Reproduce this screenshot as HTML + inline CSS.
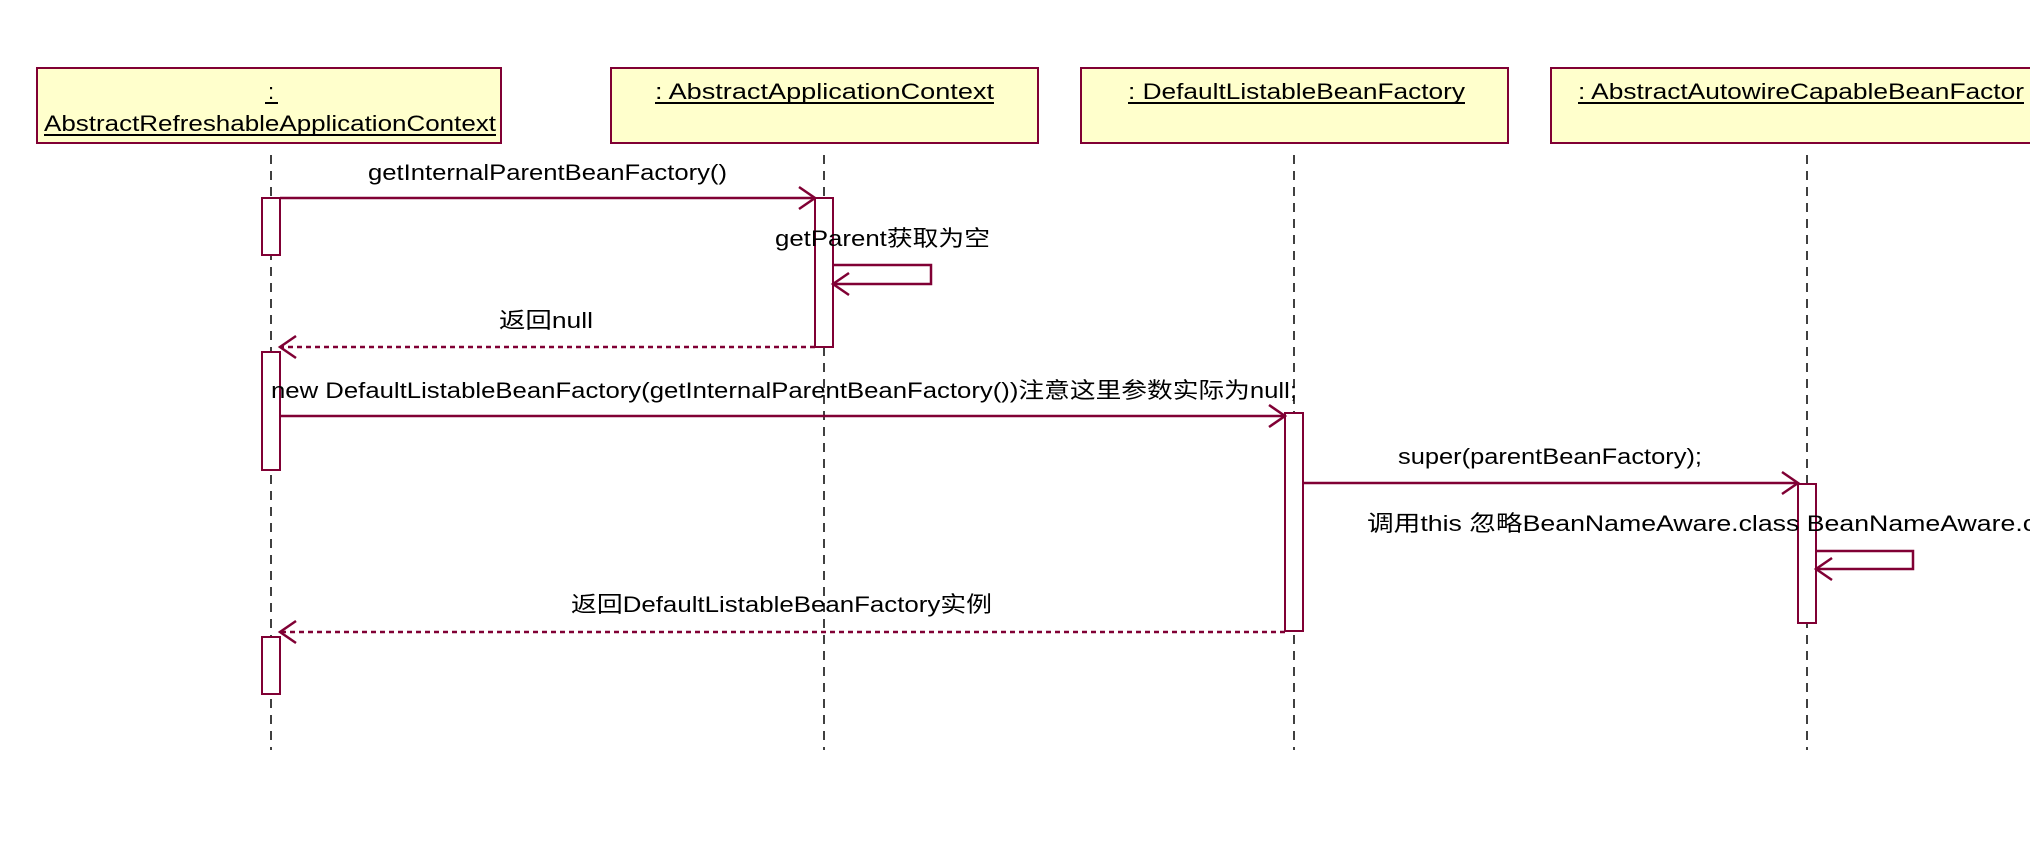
<!DOCTYPE html>
<html><head><meta charset="utf-8"><style>html,body{margin:0;padding:0;background:#fff}svg{display:block}</style></head>
<body>
<svg width="2030" height="842" viewBox="0 0 2030 842" xmlns="http://www.w3.org/2000/svg" font-family="Liberation Sans, Noto Sans CJK SC, sans-serif" font-size="22">
<g fill="#ffffcc" stroke="#800034" stroke-width="2">
<rect x="37" y="68" width="464" height="75"/>
<rect x="611" y="68" width="427" height="75"/>
<rect x="1081" y="68" width="427" height="75"/>
<rect x="1551" y="68" width="490" height="75"/>
</g>
<g fill="#000">
<text x="271" y="99" text-anchor="middle">:</text>
<line x1="265" y1="103" x2="278" y2="103" stroke="#000" stroke-width="2"/>
<text x="44" y="131" textLength="452" lengthAdjust="spacingAndGlyphs">AbstractRefreshableApplicationContext</text>
<line x1="44" y1="135" x2="496" y2="135" stroke="#000" stroke-width="2"/>
<text x="655" y="99" textLength="339" lengthAdjust="spacingAndGlyphs">: AbstractApplicationContext</text>
<line x1="655" y1="103" x2="994" y2="103" stroke="#000" stroke-width="2"/>
<text x="1128" y="99" textLength="337" lengthAdjust="spacingAndGlyphs">: DefaultListableBeanFactory</text>
<line x1="1128" y1="103" x2="1465" y2="103" stroke="#000" stroke-width="2"/>
<text x="1578" y="99" textLength="446" lengthAdjust="spacingAndGlyphs">: AbstractAutowireCapableBeanFactor</text>
<line x1="1578" y1="103" x2="2024" y2="103" stroke="#000" stroke-width="2"/>
</g>
<g stroke="#000" stroke-width="1.5" stroke-dasharray="9,7">
<line x1="271" y1="155" x2="271" y2="750"/>
<line x1="824" y1="155" x2="824" y2="750"/>
<line x1="1294" y1="155" x2="1294" y2="750"/>
<line x1="1807" y1="155" x2="1807" y2="750"/>
</g>
<g fill="#fff" stroke="#800034" stroke-width="2">
<rect x="262" y="198" width="18" height="57"/>
<rect x="815" y="198" width="18" height="149"/>
<rect x="262" y="352" width="18" height="118"/>
<rect x="1285" y="413" width="18" height="218"/>
<rect x="1798" y="484" width="18" height="139"/>
<rect x="262" y="637" width="18" height="57"/>
</g>
<g stroke="#800034" stroke-width="2.5" fill="none">
<line x1="280" y1="198" x2="815" y2="198"/>
<polyline points="799,187 815,198 799,209"/>
<polyline points="833,265 931,265 931,284 833,284"/>
<polyline points="849,273 833,284 849,295"/>
<line x1="815" y1="347" x2="280" y2="347" stroke-dasharray="5,4"/>
<polyline points="296,336 280,347 296,358"/>
<line x1="280" y1="416" x2="1285" y2="416"/>
<polyline points="1269,405 1285,416 1269,427"/>
<line x1="1303" y1="483" x2="1798" y2="483"/>
<polyline points="1782,472 1798,483 1782,494"/>
<polyline points="1816,551 1913,551 1913,569 1816,569"/>
<polyline points="1832,558 1816,569 1832,580"/>
<line x1="1285" y1="632" x2="280" y2="632" stroke-dasharray="5,4"/>
<polyline points="296,621 280,632 296,643"/>
</g>
<g fill="#000">
<text x="368" y="180" textLength="359" lengthAdjust="spacingAndGlyphs">getInternalParentBeanFactory()</text>
<text x="775" y="246" textLength="215" lengthAdjust="spacingAndGlyphs">getParent获取为空</text>
<text x="499" y="328" textLength="94" lengthAdjust="spacingAndGlyphs">返回null</text>
<text x="271" y="398" textLength="1026" lengthAdjust="spacingAndGlyphs">new DefaultListableBeanFactory(getInternalParentBeanFactory())注意这里参数实际为null;</text>
<text x="1398" y="464" textLength="304" lengthAdjust="spacingAndGlyphs">super(parentBeanFactory);</text>
<text x="1367" y="531" textLength="675" lengthAdjust="spacingAndGlyphs">调用this 忽略BeanNameAware.class BeanNameAware.cl</text>
<text x="571" y="612" textLength="421" lengthAdjust="spacingAndGlyphs">返回DefaultListableBeanFactory实例</text>
</g>
</svg>
</body></html>
